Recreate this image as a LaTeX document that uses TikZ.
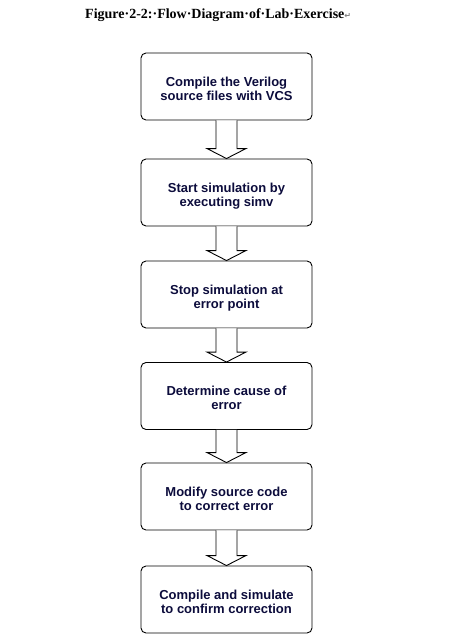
\documentclass[tikz,border=0pt]{standalone}
\usepackage{fontspec}
\setmainfont{Liberation Serif}
\setsansfont{Liberation Sans}
\newfontfamily\symfont{DejaVu Sans}
\usetikzlibrary{calc}
\definecolor{txt}{RGB}{12,12,60}
\newcommand\blockarr[2]{%
  \draw[arrowshape]
    ($(#1.south)+(-10.5,0)$) -- ($(#2.north)+(-10.5,-10)$) --
    ($(#2.north)+(-19.5,-10)$) -- (#2.north) --
    ($(#2.north)+(19.5,-10)$) -- ($(#2.north)+(10.5,-10)$) --
    ($(#1.south)+(10.5,0)$);}
\begin{document}
\begin{tikzpicture}[x=1pt,y=-1pt,
  stepbox/.style={draw=black, line width=0.9pt, rounded corners=5pt,
    minimum width=171pt, minimum height=67pt, fill=white, align=center,
    text=txt, inner sep=0pt, text height=27pt, text depth=0pt,
    font=\fontsize{13}{14}\selectfont\sffamily\bfseries},
  arrowshape/.style={draw=black, line width=0.9pt, fill=white, line join=miter},
  titlestyle/.style={anchor=base west, inner sep=0pt, text=black,
    font=\fontsize{14}{16}\selectfont\rmfamily\bfseries}]
\useasboundingbox (0,0) rectangle (451,642);
\fill[white] (0,0) rectangle (451,642);

\node[titlestyle] (title) at (85,19)
  {Figure·2-2:·Flow·Diagram·of·Lab·Exercise{\symfont\fontsize{8}{8}\selectfont\color{gray}↵}};

\node[stepbox] (s1) at (226.5,86.5) {Compile the Verilog\\source files with VCS};
\node[stepbox] (s2) at (226.5,192.5) {Start simulation by\\executing simv};
\node[stepbox] (s3) at (226.5,294.5) {Stop simulation at\\error point};
\node[stepbox] (s4) at (226.5,396) {Determine cause of\\error};
\node[stepbox] (s5) at (226.5,496.5) {Modify source code\\to correct error};
\node[stepbox] (s6) at (226.5,599.5) {Compile and simulate\\to confirm correction};

\blockarr{s1}{s2}
\blockarr{s2}{s3}
\blockarr{s3}{s4}
\blockarr{s4}{s5}
\blockarr{s5}{s6}
\end{tikzpicture}
\end{document}
